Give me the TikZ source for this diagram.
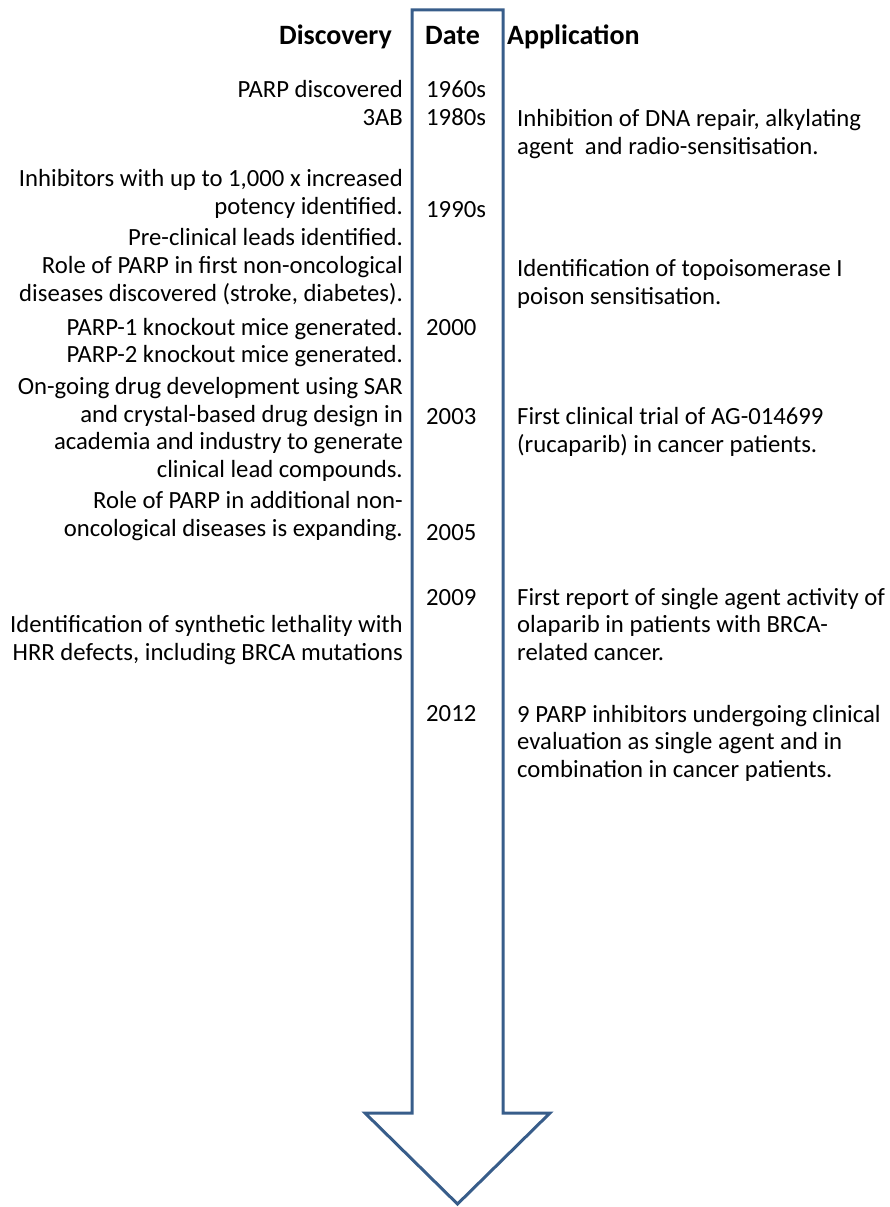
\documentclass[tikz,border=0pt]{standalone}
\usepackage{fontspec}
\setmainfont{Carlito}
\usetikzlibrary{positioning}
\definecolor{arrowblue}{RGB}{56,93,138}

\begin{document}
\begin{tikzpicture}[
    x=1pt,y=-1pt,
    every node/.style={inner sep=0pt,font=\fontsize{24.7}{27.5}\selectfont},
    heading/.style={font=\fontsize{28}{30}\selectfont\bfseries},
    discovery/.style={anchor=base east,align=right},
    date/.style={anchor=base west},
    application/.style={anchor=base west,align=left}
]
\useasboundingbox (0,0) rectangle (890,1207);

% Timeline arrow
\draw[arrowblue,line width=3pt,line join=miter]
    (412,10) -- (503,10) -- (503,1113) -- (550,1113) -- (457.5,1204)
    -- (365,1113) -- (412,1113) -- cycle;

% Headings
\node[heading,anchor=base east] (discHead) at (392,45) {Discovery};
\node[heading,anchor=base west] (dateHead) at (425,45) {Date};
\node[heading,anchor=base west] (appHead) at (507,45) {Application};

% Discovery Nodes (base = last line)
\node[discovery] (disc1) at (403,97) {PARP discovered};
\node[discovery] (disc2) at (403,125) {3AB};
\node[discovery] (disc3) at (403,214) {Inhibitors with up to 1,000 x increased\\potency identified.};
\node[discovery] (disc4) at (403,245) {Pre-clinical leads identified.};
\node[discovery] (disc5) at (403,301) {Role of PARP in first non-oncological\\diseases discovered (stroke, diabetes).};
\node[discovery] (disc6) at (403,335) {PARP-1 knockout mice generated.};
\node[discovery] (disc7) at (403,362) {PARP-2 knockout mice generated.};
\node[discovery] (disc8) at (403,477) {On-going drug development using SAR\\and crystal-based drug design in\\academia and industry to generate\\clinical lead compounds.};
\node[discovery] (disc9) at (403,536) {Role of PARP in additional non-\\oncological diseases is expanding.};
\node[discovery] (disc10) at (403,660) {Identification of synthetic lethality with\\HRR defects, including BRCA mutations};

% Date Nodes
\node[date] (date1) at (426,97) {1960s};
\node[date] (date2) at (426,125) {1980s};
\node[date] (date3) at (426,217) {1990s};
\node[date] (date4) at (426,335) {2000};
\node[date] (date5) at (426,424) {2003};
\node[date] (date6) at (426,540) {2005};
\node[date] (date7) at (426,605) {2009};
\node[date] (date8) at (426,721) {2012};

% Application Nodes (base = last line)
\node[application] (app1) at (517,154) {Inhibition of DNA repair, alkylating\\agent\ \ and radio-sensitisation.};
\node[application] (app2) at (517,304) {Identification of topoisomerase I\\poison sensitisation.};
\node[application] (app3) at (517,452) {First clinical trial of AG-014699\\(rucaparib) in cancer patients.};
\node[application] (app4) at (517,660) {First report of single agent activity of\\olaparib in patients with BRCA-\\related cancer.};
\node[application] (app5) at (517,777) {9 PARP inhibitors undergoing clinical\\evaluation as single agent and in\\combination in cancer patients.};

\end{tikzpicture}
\end{document}
